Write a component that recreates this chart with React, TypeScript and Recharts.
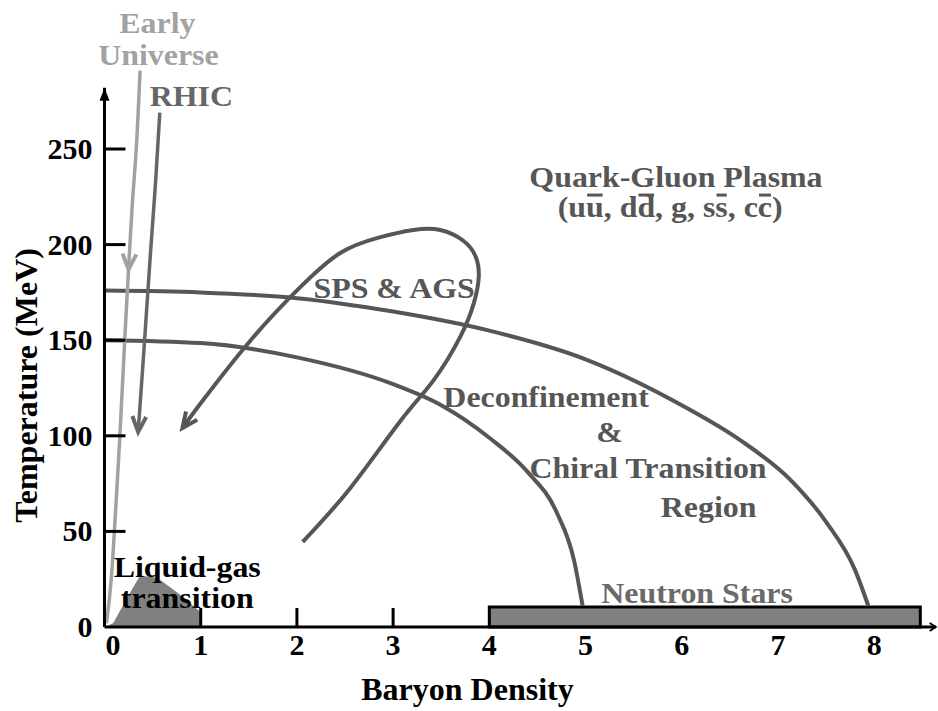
import {
  ComposedChart,
  Line,
  Area,
  XAxis,
  YAxis,
  ReferenceArea,
  ReferenceLine,
  ReferenceDot,
} from "recharts";

const SERIF = "'Liberation Serif', 'Times New Roman', serif";
const INK = "#000";
const CURVE = "#565656";
const LIGHT = "#a2a2a2";
const MID = "#666666";
const FILL = "#808080";
const NOTE_SIZE = 29;
const STRETCH = 1.1;

// baryon density ticks and temperature ticks
const xTicks = [0, 1, 2, 3, 4, 5, 6, 7, 8];
const yTicks = [0, 50, 100, 150, 200, 250];

// upper transition line (starts ~175 MeV)
const boundaryHigh = [
  { x: 0, t: 176 },
  { x: 1, t: 175 },
  { x: 2, t: 172 },
  { x: 3, t: 165 },
  { x: 4, t: 155 },
  { x: 5, t: 140 },
  { x: 6, t: 116 },
  { x: 6.6, t: 98 },
  { x: 7.13, t: 77 },
  { x: 7.5, t: 55 },
  { x: 7.8, t: 30 },
  { x: 7.94, t: 11 },
];

// lower transition line (starts ~150 MeV)
const boundaryLow = [
  { x: 0, t: 150 },
  { x: 1, t: 148.5 },
  { x: 2, t: 141 },
  { x: 3, t: 127 },
  { x: 3.5, t: 116 },
  { x: 4, t: 99 },
  { x: 4.4, t: 81 },
  { x: 4.7, t: 60 },
  { x: 4.88, t: 35 },
  { x: 4.97, t: 11 },
];

// SPS & AGS trajectory loop
const spsPath = [
  { x: 2.06, t: 44.5 },
  { x: 2.56, t: 73 },
  { x: 3.08, t: 108 },
  { x: 3.42, t: 129 },
  { x: 3.7, t: 152 },
  { x: 3.84, t: 169.5 },
  { x: 3.89, t: 183 },
  { x: 3.86, t: 193.5 },
  { x: 3.73, t: 202 },
  { x: 3.49, t: 207.6 },
  { x: 3.21, t: 207.6 },
  { x: 2.84, t: 203.5 },
  { x: 2.45, t: 195.6 },
  { x: 2.04, t: 178 },
  { x: 1.52, t: 150 },
  { x: 1.0, t: 117 },
  { x: 0.81, t: 104 },
];

const rhicPath = [
  { x: 0.575, t: 269 },
  { x: 0.53, t: 232 },
  { x: 0.48, t: 197 },
  { x: 0.41, t: 145 },
  { x: 0.35, t: 102 },
];

const earlyPath = [
  { x: 0.37, t: 291 },
  { x: 0.33, t: 250 },
  { x: 0.29, t: 222 },
  { x: 0.25, t: 187 },
  { x: 0.21, t: 150 },
  { x: 0.16, t: 100 },
  { x: 0.12, t: 65 },
  { x: 0.07, t: 25 },
  { x: 0.02, t: 2 },
];

// liquid-gas coexistence region
const liquidGas = [
  { x: 0, t: 0 },
  { x: 0.09, t: 2 },
  { x: 0.24, t: 15.7 },
  { x: 0.37, t: 27 },
  { x: 0.51, t: 26 },
  { x: 0.58, t: 24.6 },
  { x: 0.79, t: 16.7 },
  { x: 0.97, t: 9 },
  { x: 1.0, t: 8 },
  { x: 1.0, t: 0 },
];

const neutronStars = { from: 4, to: 8.48, top: 10.5 };

const notes = [
  { text: "Early", x: 0.55, t: 310.7, tone: LIGHT, anchor: "middle" },
  { text: "Universe", x: 0.56, t: 293.9, tone: LIGHT, anchor: "middle" },
  { text: "RHIC", x: 0.47, t: 272.5, tone: MID, anchor: "start" },
  { text: "Quark-Gluon Plasma", x: 5.94, t: 230.2, tone: CURVE, anchor: "middle" },
  { text: "SPS & AGS", x: 3.01, t: 172, tone: CURVE, anchor: "middle" },
  { text: "Deconfinement", x: 4.59, t: 115, tone: CURVE, anchor: "middle" },
  { text: "&", x: 5.25, t: 96.8, tone: CURVE, anchor: "middle" },
  { text: "Chiral Transition", x: 5.65, t: 77.9, tone: CURVE, anchor: "middle" },
  { text: "Region", x: 6.28, t: 57.5, tone: CURVE, anchor: "middle" },
  { text: "Liquid-gas", x: 0.86, t: 26.2, tone: INK, anchor: "middle" },
  { text: "transition", x: 0.86, t: 9.9, tone: INK, anchor: "middle" },
  { text: "Neutron Stars", x: 6.16, t: 12.6, tone: "#6a6a6a", anchor: "middle" },
];

const quarks = ["u", "d", "g", "s", "c"];

// Times/Liberation Serif Bold advance widths (em) for the formula glyphs
const glyphW: Record<string, number> = {
  "(": 0.333, ")": 0.333, u: 0.556, d: 0.556, g: 0.5, s: 0.389, c: 0.444, ",": 0.25, " ": 0.25,
};

function formulaPieces() {
  const out: { ch: string; bar: boolean }[] = [{ ch: "(", bar: false }];
  quarks.forEach((q, i) => {
    out.push({ ch: q, bar: false });
    if (q !== "g") out.push({ ch: q, bar: true });
    if (i < quarks.length - 1) {
      out.push({ ch: ",", bar: false });
      out.push({ ch: " ", bar: false });
    }
  });
  out.push({ ch: ")", bar: false });
  return out;
}

const Formula = ({ cx, cy }: any) => {
  const pieces = formulaPieces();
  const total = pieces.reduce((s, p) => s + glyphW[p.ch] * NOTE_SIZE, 0);
  let pos = -total / 2;
  const bars: { x1: number; x2: number }[] = [];
  pieces.forEach((p) => {
    const w = glyphW[p.ch] * NOTE_SIZE;
    if (p.bar) bars.push({ x1: pos + 1, x2: pos + w - 1 });
    pos += w;
  });
  return (
    <g transform={`translate(${cx},${cy}) scale(${STRETCH},1)`}>
      <text x={-total / 2} y={0} textAnchor="start" fontFamily={SERIF} fontWeight="bold" fontSize={NOTE_SIZE} fill={CURVE}>
        {pieces.map((p) => p.ch).join("")}
      </text>
      {bars.map((b, i) => (
        <line key={i} x1={b.x1} x2={b.x2} y1={-22} y2={-22} stroke={CURVE} strokeWidth={3} />
      ))}
    </g>
  );
};

function arrowDot(at: number, color: string, fallback: number, size = 17) {
  return (p: any) => {
    if (p.index !== at) return <g key={`d-${p.index}`} />;
    let a = fallback;
    const prev = p.points && p.points[at - 1];
    if (prev) a = Math.atan2(p.cy - prev.y, p.cx - prev.x);
    const s = 0.42;
    const x1 = p.cx - size * Math.cos(a - s);
    const y1 = p.cy - size * Math.sin(a - s);
    const x2 = p.cx - size * Math.cos(a + s);
    const y2 = p.cy - size * Math.sin(a + s);
    return (
      <path
        key={`d-${p.index}`}
        d={`M${x1},${y1}L${p.cx},${p.cy}L${x2},${y2}`}
        fill="none"
        stroke={color}
        strokeWidth={4}
      />
    );
  };
}

// inward tick marks; the neutron-star band hides the ones from x=4 on
const XTick = ({ x, y, payload }: any) => (
  <g>
    {payload.value > 0 && payload.value < neutronStars.from && (
      <line x1={x} x2={x} y1={y} y2={y - 19} stroke={INK} strokeWidth={3} />
    )}
    <text
      x={x + (payload.value === 0 ? 8.5 : 0)}
      y={y + 28}
      textAnchor="middle"
      fontFamily={SERIF}
      fontWeight="bold"
      fontSize={30}
      fill={INK}
    >
      {payload.value}
    </text>
  </g>
);

const YTick = ({ x, y, payload }: any) => (
  <g>
    {payload.value > 0 && <line x1={x} x2={x + 21} y1={y} y2={y} stroke={INK} strokeWidth={3} />}
    <text x={x - 12} y={y + 10} textAnchor="end" fontFamily={SERIF} fontWeight="bold" fontSize={30} fill={INK}>
      {payload.value}
    </text>
  </g>
);

const xTitle = ({ viewBox }: any) => (
  <text x={viewBox.x + 363} y={viewBox.y + 73} textAnchor="middle" fontFamily={SERIF} fontWeight="bold" fontSize={32} fill={INK}>
    Baryon Density
  </text>
);

const yTitle = ({ viewBox }: any) => {
  const cx = 37;
  const cy = viewBox.y + 332;
  return (
    <text
      x={cx}
      y={cy}
      transform={`rotate(-90, ${cx}, ${cy})`}
      textAnchor="middle"
      fontFamily={SERIF}
      fontWeight="bold"
      fontSize={32}
      fill={INK}
    >
      Temperature (MeV)
    </text>
  );
};

export default function App() {
  return (
    <div style={{ position: "absolute", left: 0, top: 0, background: "#fff" }}>
      <ComposedChart width={938} height={711} margin={{ top: 53.4, right: 2.3, bottom: 24, left: 44.5 }}>
        <XAxis
          type="number"
          dataKey="x"
          domain={[0, 8.64]}
          ticks={xTicks}
          height={60}
          tickSize={0}
          tickMargin={0}
          tickLine={false}
          axisLine={{ stroke: INK, strokeWidth: 3 }}
          tick={<XTick />}
          label={xTitle}
        />
        <YAxis
          type="number"
          dataKey="t"
          domain={[0, 300]}
          ticks={yTicks}
          width={60}
          tickSize={0}
          tickMargin={0}
          tickLine={false}
          axisLine={false}
          tick={<YTick />}
          label={yTitle}
        />

        <Area
          data={liquidGas}
          dataKey="t"
          type="linear"
          stroke="none"
          fill={FILL}
          fillOpacity={1}
          isAnimationActive={false}
        />

        <Line data={boundaryHigh} dataKey="t" type="monotone" stroke={CURVE} strokeWidth={4} dot={false} activeDot={false} isAnimationActive={false} />
        <Line data={boundaryLow} dataKey="t" type="monotone" stroke={CURVE} strokeWidth={4} dot={false} activeDot={false} isAnimationActive={false} />
        <Line
          data={spsPath}
          dataKey="t"
          type="natural"
          stroke={CURVE}
          strokeWidth={4}
          dot={arrowDot(spsPath.length - 1, CURVE, 2.2)}
          activeDot={false}
          isAnimationActive={false}
        />
        <Line
          data={rhicPath}
          dataKey="t"
          type="natural"
          stroke={MID}
          strokeWidth={3.5}
          dot={arrowDot(rhicPath.length - 1, MID, 1.7)}
          activeDot={false}
          isAnimationActive={false}
        />
        <Line
          data={earlyPath}
          dataKey="t"
          type="natural"
          stroke={LIGHT}
          strokeWidth={3.5}
          dot={arrowDot(3, LIGHT, 1.68)}
          activeDot={false}
          isAnimationActive={false}
        />

        <ReferenceArea
          x1={neutronStars.from}
          x2={neutronStars.to}
          y1={0}
          y2={neutronStars.top}
          fill={FILL}
          fillOpacity={1}
          stroke={INK}
          strokeWidth={3}
        />

        <ReferenceLine segment={[{ x: 0, y: 0 }, { x: 0, y: 282 }]} stroke={INK} strokeWidth={3} />
        <ReferenceDot
          x={0}
          y={282}
          r={0}
          ifOverflow="visible"
          shape={(p: any) => <path d={`M${p.cx},${p.cy}L${p.cx - 5},${p.cy + 13}L${p.cx + 5},${p.cy + 13}Z`} fill={INK} />}
        />
        <ReferenceDot
          x={8.64}
          y={0}
          r={0}
          ifOverflow="visible"
          shape={(p: any) => <path d={`M${p.cx - 6},${p.cy - 4}L${p.cx},${p.cy}L${p.cx - 6},${p.cy + 4}`} fill="none" stroke={INK} strokeWidth={2} />}
        />

        {notes.map((n) => (
          <ReferenceDot
            key={n.text}
            x={n.x}
            y={n.t}
            r={0}
            ifOverflow="visible"
            shape={(p: any) => (
              <text
                transform={`translate(${p.cx},${p.cy}) scale(${STRETCH},1)`}
                x={0}
                y={0}
                textAnchor={n.anchor}
                fontFamily={SERIF}
                fontWeight="bold"
                fontSize={NOTE_SIZE}
                fill={n.tone}
              >
                {n.text}
              </text>
            )}
          />
        ))}
        <ReferenceDot x={5.88} y={214.4} r={0} ifOverflow="visible" shape={(p: any) => <Formula cx={p.cx} cy={p.cy} />} />
      </ComposedChart>
    </div>
  );
}
